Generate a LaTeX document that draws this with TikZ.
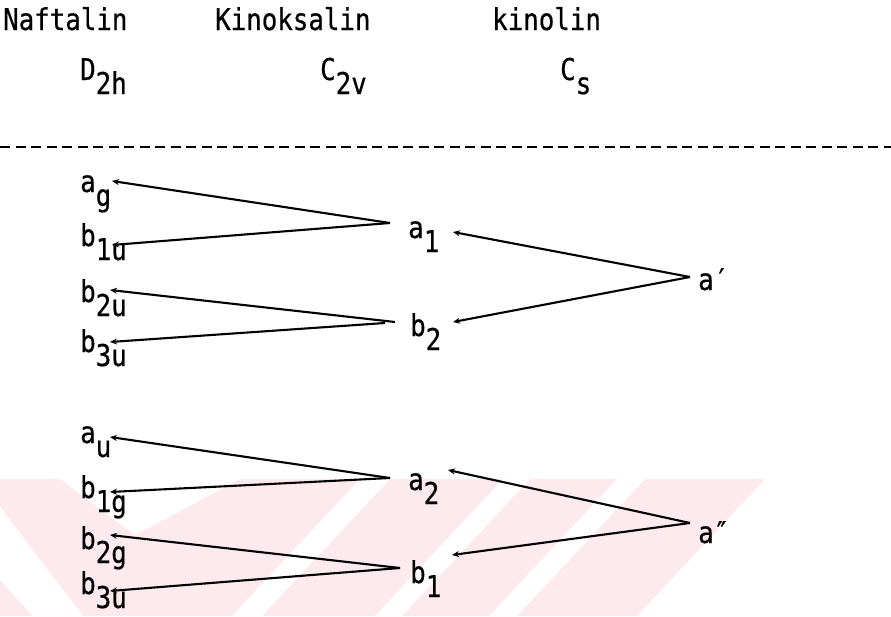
\documentclass[tikz,border=0pt]{standalone}
\usepackage{fontspec}
\newfontfamily\tw[FakeStretch=0.86,FakeBold=0.6]{DejaVu Sans Mono}
\usetikzlibrary{arrows.meta}
\definecolor{wm}{RGB}{253,234,238}
\newcommand{\lo}[1]{\raisebox{-14pt}[0pt][0pt]{#1}}
\begin{document}
\begin{tikzpicture}[x=1pt,y=-1pt,
  lbl/.style={anchor=base west,inner sep=0pt,font=\tw\fontsize{30}{30}\selectfont},
  arr/.style={line width=2.1pt,-{Stealth[length=7pt,width=6pt]}},
  dashline/.style={line width=2.2pt,dash pattern=on 10pt off 5.5pt}]
\useasboundingbox (0,0) rectangle (891,616);
% watermark
\fill[wm] (0,479) -- (765,479) -- (637,616) -- (0,616) -- cycle;
\fill[white] (360,479) -- (390,479) -- (262,616) -- (232,616) -- cycle;
\fill[white] (503,479) -- (530,479) -- (402,616) -- (375,616) -- cycle;
\fill[white] (617,479) -- (645,479) -- (517,616) -- (489,616) -- cycle;
\fill[white] (60,479) -- (240,479) -- (135,535) -- cycle;
\fill[white] (0,507) -- (83,616) -- (33,616) -- (0,580) -- cycle;
% headers
\node[lbl] (naf) at (3,30) {Naftalin};
\node[lbl] (kin) at (215,30) {Kinoksalin};
\node[lbl] (kol) at (492,30) {kinolin};
\node[lbl] (d2h) at (80,80) {D\lo{2h}};
\node[lbl] (c2v) at (320,80) {C\lo{2v}};
\node[lbl] (cs) at (560,80) {C\lo{s}};
\draw[dashline] (0,147) -- (891,147);
% upper group
\node[lbl] (ag) at (80,192) {a\lo{g}};
\node[lbl] (b1u) at (80,246) {b\lo{1u}};
\node[lbl] (b2u) at (80,302) {b\lo{2u}};
\node[lbl] (b3u) at (80,352) {b\lo{3u}};
\node[lbl] (a1) at (408,238) {a\lo{1}};
\node[lbl] (b2) at (410,336) {b\lo{2}};
\node[lbl] (ap) at (698,290) {a′};
% lower group
\node[lbl] (au) at (80,443) {a\lo{u}};
\node[lbl] (b1g) at (80,498) {b\lo{1g}};
\node[lbl] (b2g) at (80,549) {b\lo{2g}};
\node[lbl] (b3l) at (80,594) {b\lo{3u}};
\node[lbl] (a2) at (408,490) {a\lo{2}};
\node[lbl] (b1) at (410,583) {b\lo{1}};
\node[lbl] (app) at (698,543) {a″};
% arrows upper
\draw[arr] ([shift={(-18,-15)}]a1.base west) -- ([shift={(32,-11)}]ag.base west);
\draw[arr] ([shift={(-18,-15)}]a1.base west) -- ([shift={(32,-1)}]b1u.base west);
\draw[arr] ([shift={(-8,-13)}]ap.base west) -- ([shift={(45,-6)}]a1.base west);
\draw[arr] ([shift={(-8,-13)}]ap.base west) -- ([shift={(43,-14)}]b2.base west);
\draw[arr] ([shift={(-15,-14)}]b2.base west) -- ([shift={(30,-12)}]b2u.base west);
\draw[arr] ([shift={(-25,-13)}]b2.base west) -- ([shift={(30,-10)}]b3u.base west);
% arrows lower
\draw[arr] ([shift={(-18,-12)}]a2.base west) -- ([shift={(30,-6)}]au.base west);
\draw[arr] ([shift={(-18,-12)}]a2.base west) -- ([shift={(30,-6)}]b1g.base west);
\draw[arr] ([shift={(-8,-20)}]app.base west) -- ([shift={(40,-20)}]a2.base west);
\draw[arr] ([shift={(-8,-20)}]app.base west) -- ([shift={(42,-28)}]b1.base west);
\draw[arr] ([shift={(-10,-15)}]b1.base west) -- ([shift={(30,-14)}]b2g.base west);
\draw[arr] ([shift={(-10,-15)}]b1.base west) -- ([shift={(30,-3)}]b3l.base west);
\end{tikzpicture}
\end{document}
